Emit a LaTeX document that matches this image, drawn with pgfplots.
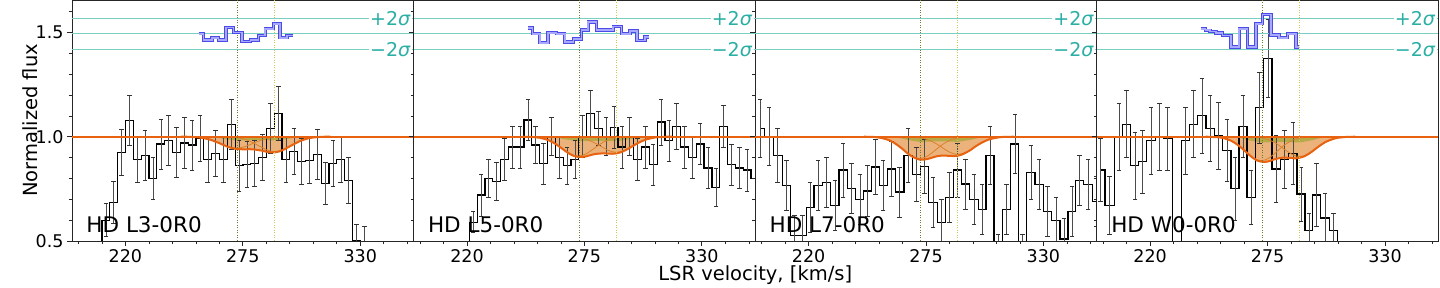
\documentclass[border=0pt]{standalone}
\usepackage{fontspec}
\setmainfont{DejaVu Sans}
\usepackage{pgfplots}
\usepackage{pgfplotstable}
\pgfplotsset{compat=1.18}
\definecolor{morange}{HTML}{E8620F}
\definecolor{mfill}{HTML}{ECB27C}
\definecolor{molive}{HTML}{A9A93C}
\definecolor{mcomp}{HTML}{D9822B}
\definecolor{vdark}{HTML}{6B7F2A}
\definecolor{vlight}{HTML}{C9C95A}
\definecolor{tealline}{HTML}{7ACFC3}
\definecolor{teallabel}{HTML}{2AAFA5}
\definecolor{rescolout}{HTML}{4B4BE8}
\definecolor{rescolin}{HTML}{A8A8FF}

\pgfplotstableread{
v T1 A1 B1 T2 A2 B2 T3 A3 B3 T4 A4 B4
246 1.000 1.000 1.000 1.000 1.000 1.000 1.000 1.000 1.000 1.000 1.000 1.000
248 1.000 1.000 1.000 0.999 0.999 1.000 0.999 0.999 1.000 0.999 0.999 1.000
250 0.999 0.999 1.000 0.999 0.999 1.000 0.999 0.999 1.000 0.998 0.998 1.000
252 0.998 0.998 1.000 0.997 0.997 1.000 0.997 0.997 1.000 0.997 0.997 1.000
254 0.997 0.997 1.000 0.995 0.995 1.000 0.994 0.994 1.000 0.994 0.994 1.000
256 0.994 0.994 1.000 0.990 0.990 1.000 0.989 0.989 1.000 0.988 0.988 1.000
258 0.990 0.990 1.000 0.984 0.984 1.000 0.982 0.982 1.000 0.980 0.980 1.000
260 0.985 0.985 1.000 0.974 0.974 1.000 0.971 0.971 1.000 0.968 0.968 1.000
262 0.977 0.977 1.000 0.962 0.962 1.000 0.957 0.957 1.000 0.953 0.953 1.000
264 0.969 0.969 1.000 0.947 0.947 1.000 0.941 0.941 1.000 0.935 0.935 1.000
266 0.960 0.960 1.000 0.932 0.932 1.000 0.923 0.924 0.999 0.916 0.917 0.999
268 0.951 0.952 0.999 0.918 0.919 0.999 0.908 0.909 0.999 0.899 0.900 0.999
270 0.945 0.947 0.998 0.908 0.910 0.998 0.897 0.899 0.998 0.886 0.889 0.997
272 0.941 0.945 0.996 0.903 0.907 0.996 0.890 0.895 0.995 0.880 0.885 0.995
274 0.940 0.947 0.993 0.903 0.910 0.992 0.890 0.899 0.991 0.879 0.889 0.990
276 0.939 0.952 0.987 0.906 0.919 0.987 0.894 0.909 0.985 0.883 0.900 0.983
278 0.940 0.960 0.980 0.912 0.932 0.979 0.900 0.924 0.976 0.891 0.917 0.974
280 0.939 0.969 0.970 0.917 0.947 0.969 0.906 0.941 0.965 0.896 0.935 0.961
282 0.936 0.977 0.959 0.919 0.962 0.958 0.909 0.957 0.952 0.899 0.953 0.946
284 0.933 0.985 0.948 0.920 0.974 0.946 0.909 0.971 0.938 0.899 0.968 0.931
286 0.928 0.990 0.938 0.919 0.984 0.935 0.908 0.982 0.926 0.898 0.980 0.918
288 0.925 0.994 0.931 0.918 0.990 0.928 0.907 0.989 0.918 0.896 0.988 0.908
290 0.925 0.997 0.928 0.920 0.995 0.925 0.909 0.994 0.915 0.899 0.994 0.905
292 0.929 0.998 0.931 0.925 0.997 0.928 0.915 0.997 0.918 0.905 0.997 0.908
294 0.937 0.999 0.938 0.934 0.999 0.935 0.925 0.999 0.926 0.916 0.998 0.918
296 0.948 1.000 0.948 0.945 0.999 0.946 0.937 0.999 0.938 0.930 0.999 0.931
298 0.959 1.000 0.959 0.957 1.000 0.958 0.952 1.000 0.952 0.946 1.000 0.946
300 0.970 1.000 0.970 0.969 1.000 0.969 0.965 1.000 0.965 0.961 1.000 0.961
302 0.980 1.000 0.980 0.979 1.000 0.979 0.976 1.000 0.976 0.974 1.000 0.974
304 0.987 1.000 0.987 0.987 1.000 0.987 0.985 1.000 0.985 0.983 1.000 0.983
306 0.993 1.000 0.993 0.992 1.000 0.992 0.991 1.000 0.991 0.990 1.000 0.990
308 0.996 1.000 0.996 0.996 1.000 0.996 0.995 1.000 0.995 0.995 1.000 0.995
310 0.998 1.000 0.998 0.998 1.000 0.998 0.998 1.000 0.998 0.997 1.000 0.997
312 0.999 1.000 0.999 0.999 1.000 0.999 0.999 1.000 0.999 0.999 1.000 0.999
314 1.000 1.000 1.000 1.000 1.000 1.000 0.999 1.000 0.999 0.999 1.000 0.999
316 1.000 1.000 1.000 1.000 1.000 1.000 1.000 1.000 1.000 1.000 1.000 1.000
}\model

\pgfplotstableread{
x y
254.3 1.493
256.6 1.464
260.5 1.474
263.6 1.464
267.1 1.522
270.7 1.500
274.6 1.457
278.5 1.464
282.4 1.485
285.5 1.517
289.4 1.541
292.5 1.474
295.7 1.485
298.7 1.485
}\resA

\pgfplotstableread{
x y
248.7 1.520
250.7 1.493
254.1 1.450
258.0 1.498
261.9 1.493
265.8 1.453
269.8 1.469
273.7 1.512
276.8 1.549
280.7 1.512
284.6 1.512
288.5 1.528
292.4 1.493
296.3 1.506
299.7 1.461
303.3 1.477
305.3 1.477
}\resB

\pgfplotstableread{
x y
243.8 1.517
246.0 1.510
248.0 1.505
250.8 1.497
253.9 1.485
257.8 1.429
261.7 1.517
265.6 1.429
269.5 1.541
272.6 1.585
276.6 1.488
280.4 1.474
284.3 1.493
288.3 1.429
289.8 1.429
}\resD

\pgfplotsset{
  panel/.style={
    scale only axis, width=341.6pt, height=241pt,
    anchor=south west,
    xmin=195, xmax=355, ymin=0.5, ymax=1.655,
    xtick={220,275,330}, xticklabels={220,275,330},
    minor xtick={198,209,231,242,253,264,286,297,308,319,341,352},
    ytick={0.5,1.0,1.5},
    minor ytick={0.6,0.7,0.8,0.9,1.1,1.2,1.3,1.4,1.6},
    tick align=outside, tick pos=left,
    major tick length=5pt, minor tick length=3pt,
    every tick/.style={black!85, line width=0.8pt},
    every minor tick/.style={black!85, line width=0.6pt},
    axis line style={black!85, line width=0.8pt},
    tick label style={font=\fontsize{17.5}{17.5}\selectfont},
  },
  hist/.style={black, line width=1.2pt, const plot mark mid,
    error bars/.cd, y dir=both, y explicit,
    error bar style={line width=0.55pt, black!70},
    error mark options={rotate=90, line width=0.8pt, black!80, mark size=2.3pt}},
  resO/.style={rescolout, line width=3.4pt, const plot mark left},
  resI/.style={rescolin, line width=1.5pt, const plot mark left},
}
\tikzset{sig/.style={anchor=east, fill=white, inner sep=1.2pt, text=teallabel, font=\fontsize{19}{19}\selectfont},
  plab/.style={anchor=west, font=\fontsize{21.5}{22}\selectfont}}

\newcommand{\modelA}[3]{%
  \addplot[draw=none, fill=mfill] table[x=v,y=#1]{\model} -- cycle;
}
\newcommand{\modelB}[3]{%
  \addplot[mcomp, line width=0.8pt] table[x=v,y=#2]{\model};
  \addplot[mcomp, line width=0.8pt] table[x=v,y=#3]{\model};
  \addplot[morange, line width=2pt] coordinates {(195,1) (355,1)};
  \addplot[morange, line width=2pt] table[x=v,y=#1]{\model};
  \addplot[vdark, line width=0.8pt, dash pattern=on 1pt off 1.5pt] coordinates {(272.5,0.5) (272.5,1.655)};
  \addplot[vlight, line width=0.8pt, dash pattern=on 1pt off 1.5pt] coordinates {(289.8,0.5) (289.8,1.655)};
  \addplot[tealline, line width=0.9pt] coordinates {(195,1.493) (355,1.493)};
  \addplot[tealline, line width=0.7pt] coordinates {(195,1.566) (355,1.566)};
  \addplot[tealline, line width=0.7pt] coordinates {(195,1.417) (355,1.417)};
  \node[sig] at (axis cs:354.3,1.566) {+2\textit{σ}};
  \node[sig] at (axis cs:354.3,1.417) {−2\textit{σ}};
}

\begin{document}
\begin{tikzpicture}
\path[use as bounding box] (-72pt,-47pt) rectangle (1368pt,241pt);

% ---------- panel 1
\begin{axis}[panel, at={(0pt,0pt)}, yticklabels={0.5,1.0,1.5},
  ylabel={Normalized flux},
  ylabel style={at={(axis description cs:-0.123,0.5)}, anchor=center, font=\fontsize{19.5}{20}\selectfont}]
\modelA{T1}{A1}{B1}
\addplot[draw=none, fill=molive, fill opacity=0.8] coordinates {(260,1) (266,0.989) (272,0.982) (281,0.984) (290,0.982) (296,0.989) (302,1)} -- cycle;
\addplot[hist] coordinates {
(199.9,0.35) +- (0,0.05)
(203.6,0.35) +- (0,0.05)
(207.2,0.35) +- (0,0.05)
(210.9,0.600) +- (0,0.08)
(214.5,0.685) +- (0,0.10)
(218.2,0.925) +- (0,0.11)
(221.9,1.077) +- (0,0.12)
(225.6,0.890) +- (0,0.11)
(229.2,0.910) +- (0,0.12)
(232.9,0.800) +- (0,0.10)
(236.6,0.965) +- (0,0.12)
(240.2,0.980) +- (0,0.12)
(243.9,0.925) +- (0,0.12)
(247.6,0.970) +- (0,0.12)
(251.2,0.960) +- (0,0.12)
(254.9,0.990) +- (0,0.11)
(258.6,0.890) +- (0,0.11)
(262.2,0.920) +- (0,0.11)
(265.9,0.890) +- (0,0.11)
(269.6,1.060) +- (0,0.12)
(273.2,0.860) +- (0,0.12)
(276.9,0.865) +- (0,0.11)
(280.6,0.870) +- (0,0.11)
(284.2,0.900) +- (0,0.11)
(287.9,1.040) +- (0,0.12)
(291.6,1.110) +- (0,0.13)
(295.2,0.890) +- (0,0.11)
(298.9,0.930) +- (0,0.11)
(302.6,0.880) +- (0,0.11)
(306.2,0.885) +- (0,0.11)
(309.9,0.915) +- (0,0.12)
(313.6,0.775) +- (0,0.10)
(317.2,0.870) +- (0,0.11)
(320.9,0.890) +- (0,0.11)
(324.6,0.790) +- (0,0.11)
(328.2,0.500) +- (0,0.08)
(331.9,0.490) +- (0,0.08)
(335.6,0.350) +- (0,0.05)
(339.2,0.350) +- (0,0.05)
};
\modelB{T1}{A1}{B1}
\addplot[resO] table[x=x,y=y]{\resA};
\addplot[resI] table[x=x,y=y]{\resA};
\node[plab] at (rel axis cs:0.032,0.068) {HD L3-0R0};
\end{axis}

% ---------- panel 2
\begin{axis}[panel, at={(341.6pt,0pt)}, yticklabels={}]
\modelA{T2}{A2}{B2}
\addplot[draw=none, fill=molive, fill opacity=0.8] coordinates {(260,1) (266,0.987) (272,0.978) (281,0.980) (290,0.978) (296,0.987) (302,1)} -- cycle;
\addplot[hist] coordinates {
(215.6,0.35) +- (0,0.05)
(219.2,0.35) +- (0,0.05)
(222.9,0.590) +- (0,0.05)
(226.6,0.720) +- (0,0.10)
(230.2,0.800) +- (0,0.09)
(233.9,0.785) +- (0,0.09)
(237.6,0.890) +- (0,0.10)
(241.2,0.950) +- (0,0.10)
(244.9,0.950) +- (0,0.10)
(248.6,1.080) +- (0,0.10)
(252.2,0.960) +- (0,0.09)
(255.9,0.870) +- (0,0.10)
(259.6,1.000) +- (0,0.09)
(263.2,0.900) +- (0,0.10)
(266.9,0.860) +- (0,0.09)
(270.6,0.890) +- (0,0.09)
(274.2,1.000) +- (0,0.10)
(277.9,1.110) +- (0,0.11)
(281.6,1.040) +- (0,0.08)
(285.2,1.000) +- (0,0.09)
(288.9,1.045) +- (0,0.10)
(292.6,0.950) +- (0,0.10)
(296.2,1.000) +- (0,0.09)
(299.9,0.890) +- (0,0.10)
(303.6,0.950) +- (0,0.10)
(307.2,0.865) +- (0,0.10)
(310.9,1.070) +- (0,0.11)
(314.6,0.980) +- (0,0.10)
(318.2,1.050) +- (0,0.11)
(321.9,0.950) +- (0,0.10)
(325.6,0.900) +- (0,0.10)
(329.2,0.965) +- (0,0.10)
(332.9,0.850) +- (0,0.10)
(336.6,0.757) +- (0,0.09)
(340.2,1.050) +- (0,0.10)
(343.9,0.865) +- (0,0.10)
(347.6,0.850) +- (0,0.10)
(351.2,0.840) +- (0,0.10)
(354.9,0.800) +- (0,0.10)
};
\modelB{T2}{A2}{B2}
\addplot[resO] table[x=x,y=y]{\resB};
\addplot[resI] table[x=x,y=y]{\resB};
\node[plab] at (rel axis cs:0.032,0.068) {HD L5-0R0};
\end{axis}

% ---------- panel 3
\begin{axis}[panel, at={(683.2pt,0pt)}, yticklabels={}]
\modelA{T3}{A3}{B3}
\addplot[draw=none, fill=molive, fill opacity=0.8] coordinates {(260,1) (266,0.985) (272,0.975) (281,0.978) (290,0.975) (296,0.985) (302,1)} -- cycle;
\addplot[hist] coordinates {
(197.3,1.040) +- (0,0.14)
(201.4,1.000) +- (0,0.14)
(205.5,0.910) +- (0,0.13)
(209.7,0.765) +- (0,0.12)
(213.4,0.525) +- (0,0.10)
(217.1,0.525) +- (0,0.10)
(220.6,0.660) +- (0,0.12)
(224.5,0.765) +- (0,0.12)
(228.4,0.780) +- (0,0.12)
(232.3,0.670) +- (0,0.12)
(236.2,0.840) +- (0,0.13)
(240.1,0.750) +- (0,0.12)
(244.0,0.700) +- (0,0.12)
(247.7,0.740) +- (0,0.12)
(251.3,0.855) +- (0,0.13)
(254.9,0.765) +- (0,0.12)
(258.8,0.845) +- (0,0.13)
(262.7,0.735) +- (0,0.12)
(266.6,0.910) +- (0,0.13)
(270.5,0.820) +- (0,0.13)
(274.4,0.857) +- (0,0.13)
(278.3,0.685) +- (0,0.12)
(282.2,0.590) +- (0,0.11)
(286.0,0.710) +- (0,0.12)
(289.7,0.840) +- (0,0.13)
(293.6,0.773) +- (0,0.12)
(297.5,0.700) +- (0,0.12)
(301.3,0.650) +- (0,0.12)
(304.9,0.910) +- (0,0.14)
(308.8,0.450) +- (0,0.08)
(312.7,0.650) +- (0,0.12)
(316.6,0.965) +- (0,0.14)
(320.3,0.450) +- (0,0.08)
(324.1,0.830) +- (0,0.13)
(328.0,0.770) +- (0,0.12)
(331.9,0.640) +- (0,0.12)
(335.8,0.600) +- (0,0.11)
(339.7,0.510) +- (0,0.10)
(343.3,0.640) +- (0,0.12)
(347.0,0.790) +- (0,0.12)
(350.9,0.770) +- (0,0.12)
(354.7,0.690) +- (0,0.12)
};
\modelB{T3}{A3}{B3}
\node[plab] at (rel axis cs:0.032,0.068) {HD L7-0R0};
\end{axis}

% ---------- panel 4
\begin{axis}[panel, at={(1024.8pt,0pt)}, yticklabels={}]
\modelA{T4}{A4}{B4}
\addplot[draw=none, fill=molive, fill opacity=0.8] coordinates {(260,1) (266,0.983) (272,0.972) (281,0.975) (290,0.972) (296,0.983) (302,1)} -- cycle;
\addplot[hist] coordinates {
(196.7,0.840) +- (0,0.15)
(200.9,0.670) +- (0,0.14)
(205.3,1.000) +- (0,0.16)
(209.0,1.060) +- (0,0.16)
(212.9,0.860) +- (0,0.16)
(216.5,0.880) +- (0,0.15)
(220.4,0.980) +- (0,0.16)
(224.3,1.000) +- (0,0.16)
(228.2,0.990) +- (0,0.15)
(232.5,0.450) +- (0,0.05)
(236.5,0.980) +- (0,0.16)
(240.3,1.060) +- (0,0.16)
(244.2,1.100) +- (0,0.18)
(248.1,1.040) +- (0,0.16)
(252.0,1.005) +- (0,0.16)
(255.9,0.935) +- (0,0.15)
(259.8,0.750) +- (0,0.15)
(263.4,1.050) +- (0,0.15)
(267.3,0.710) +- (0,0.13)
(271.2,1.140) +- (0,0.17)
(275.1,1.375) +- (0,0.185)
(279.0,0.845) +- (0,0.16)
(282.9,0.890) +- (0,0.14)
(286.8,0.920) +- (0,0.15)
(290.7,0.725) +- (0,0.13)
(294.4,0.550) +- (0,0.08)
(298.0,0.720) +- (0,0.15)
(301.9,0.610) +- (0,0.12)
(305.8,0.550) +- (0,0.08)
(309.7,0.400) +- (0,0.05)
(313.6,0.400) +- (0,0.05)
};
\modelB{T4}{A4}{B4}
\addplot[resO] table[x=x,y=y]{\resD};
\addplot[resI] table[x=x,y=y]{\resD};
\node[plab] at (rel axis cs:0.032,0.068) {HD W0-0R0};
\end{axis}

\node[font=\fontsize{19.5}{20}\selectfont] at (683.2pt,-34pt) {LSR velocity, [km/s]};
\end{tikzpicture}
\end{document}
